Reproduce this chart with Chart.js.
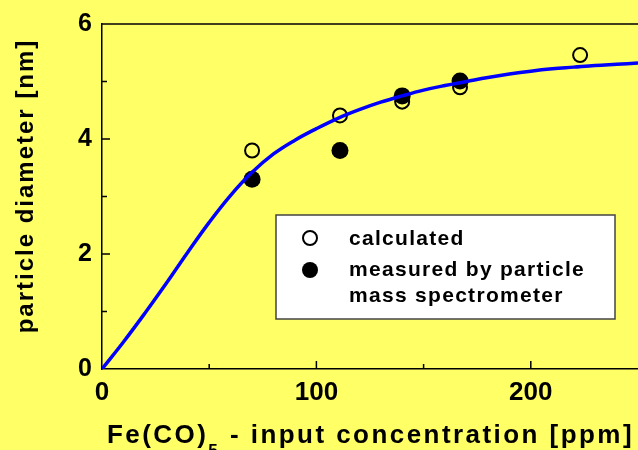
<!DOCTYPE html>
<html>
<head>
<meta charset="utf-8">
<script src="https://cdn.jsdelivr.net/npm/chart.js@4.4.1/dist/chart.umd.min.js"></script>
<style>
  html, body { margin: 0; padding: 0; background: #ffff66; }
  #wrap { width: 638px; height: 450px; position: relative; }
</style>
</head>
<body>
<div id="wrap"><canvas id="chart"></canvas></div>
<script>
// fitted curve
const fitConc = [0, 10, 20, 30, 40, 50, 60, 70, 80, 90, 100, 110, 120, 130, 140, 150, 160, 170, 180, 190, 200, 210, 220, 230, 240, 250];
const fitDiameter = [0, 0.47, 0.97, 1.49, 2.03, 2.55, 3.02, 3.42, 3.74, 3.98, 4.18, 4.36, 4.51, 4.64, 4.75, 4.85, 4.93, 5.0, 5.07, 5.13, 5.18, 5.22, 5.25, 5.28, 5.3, 5.32];

// open circles
const calcConc = [70, 111, 140, 167, 223];
const calcDiameter = [3.80, 4.41, 4.65, 4.90, 5.46];

// filled circles
const measConc = [70, 111, 140, 167];
const measDiameter = [3.30, 3.80, 4.75, 5.01];

const xMinorTicks = [50, 150];
const xMajorTicks = [100, 200];
const yMinorTicks = [1, 3, 5];
const yMajorTicks = [2, 4];

const legendLabels = ['calculated', 'measured by particle', 'mass spectrometer'];

const FONT = '"Liberation Sans", Arial, sans-serif';

const toPoints = (xs, ys) => xs.map((x, i) => ({ x: x, y: ys[i] }));

// inward ticks, top frame line, axis titles and the boxed legend
const decorations = {
  id: 'decorations',
  afterDraw(chart) {
    const ctx = chart.ctx;
    const area = chart.chartArea;
    const xs = chart.scales.x;
    const ys = chart.scales.y;
    ctx.save();
    ctx.strokeStyle = '#000';
    ctx.lineWidth = 1.5;
    ctx.beginPath();
    ctx.moveTo(area.left, area.top);
    ctx.lineTo(area.right, area.top);
    xMajorTicks.forEach(v => { const p = xs.getPixelForValue(v); ctx.moveTo(p, area.bottom); ctx.lineTo(p, area.bottom - 8); });
    xMinorTicks.forEach(v => { const p = xs.getPixelForValue(v); ctx.moveTo(p, area.bottom); ctx.lineTo(p, area.bottom - 5); });
    yMajorTicks.forEach(v => { const p = ys.getPixelForValue(v); ctx.moveTo(area.left, p); ctx.lineTo(area.left + 8, p); });
    yMinorTicks.forEach(v => { const p = ys.getPixelForValue(v); ctx.moveTo(area.left, p); ctx.lineTo(area.left + 5, p); });
    ctx.stroke();

    // x title with subscript
    ctx.fillStyle = '#000';
    ctx.textBaseline = 'alphabetic';
    ctx.textAlign = 'left';
    ctx.letterSpacing = '2.45px';
    ctx.font = 'bold 26px ' + FONT;
    let x = 107;
    ctx.fillText('Fe(CO)', x, 443);
    x += ctx.measureText('Fe(CO)').width;
    ctx.font = 'bold 17px ' + FONT;
    ctx.fillText('5', x, 456);
    x += ctx.measureText('5').width;
    ctx.font = 'bold 26px ' + FONT;
    ctx.fillText(' - input concentration [ppm]', x, 443);

    // y title
    ctx.save();
    ctx.translate(33, 186);
    ctx.rotate(-Math.PI / 2);
    ctx.textAlign = 'center';
    ctx.letterSpacing = '2px';
    ctx.font = 'bold 24px ' + FONT;
    ctx.fillText('particle diameter [nm]', 0, 0);
    ctx.restore();

    // legend box
    ctx.fillStyle = '#fff';
    ctx.fillRect(276, 215, 339, 104);
    ctx.strokeStyle = '#444';
    ctx.lineWidth = 1.5;
    ctx.strokeRect(276, 215, 339, 104);
    ctx.lineWidth = 2;
    ctx.strokeStyle = '#000';
    ctx.beginPath();
    ctx.arc(310, 238, 7, 0, Math.PI * 2);
    ctx.stroke();
    ctx.fillStyle = '#000';
    ctx.beginPath();
    ctx.arc(310, 270, 8, 0, Math.PI * 2);
    ctx.fill();
    ctx.letterSpacing = '1.3px';
    ctx.font = 'bold 21px ' + FONT;
    ctx.fillText(legendLabels[0], 349, 245);
    ctx.fillText(legendLabels[1], 349, 276);
    ctx.fillText(legendLabels[2], 349, 302);
    ctx.restore();
  }
};

new Chart(document.getElementById('chart'), {
  type: 'scatter',
  data: {
    datasets: [
      {
        label: 'fit',
        data: toPoints(fitConc, fitDiameter),
        showLine: true,
        borderColor: '#0000ff',
        borderWidth: 3.5,
        pointRadius: 0,
        tension: 0.4,
        order: 0
      },
      {
        label: 'measured by particle mass spectrometer',
        data: toPoints(measConc, measDiameter),
        backgroundColor: '#000',
        borderColor: '#000',
        borderWidth: 0,
        pointRadius: 8.5,
        order: 1
      },
      {
        label: 'calculated',
        data: toPoints(calcConc, calcDiameter),
        backgroundColor: 'rgba(0,0,0,0)',
        borderColor: '#000',
        borderWidth: 2,
        pointRadius: 7,
        order: 2
      }
    ]
  },
  options: {
    responsive: true,
    maintainAspectRatio: false,
    animation: false,
    layout: { autoPadding: false, padding: { top: 24, left: 0, right: 0, bottom: 0 } },
    plugins: { legend: { display: false }, tooltip: { enabled: false } },
    scales: {
      x: {
        type: 'linear',
        min: 0,
        max: 250,
        afterFit: s => { s.height = 81; s.paddingLeft = 0; s.paddingRight = 0; },
        grid: { display: false, drawTicks: false },
        border: { display: true, color: '#000', width: 1.5 },
        ticks: {
          stepSize: 100,
          padding: 8,
          color: '#000',
          font: { family: FONT, size: 26, weight: 'bold' },
          callback: v => (v % 100 === 0 && v < 250 ? v : '')
        }
      },
      y: {
        type: 'linear',
        min: 0,
        max: 6,
        afterFit: s => { s.width = 102; s.paddingTop = 0; s.paddingBottom = 0; },
        grid: { display: false, drawTicks: false },
        border: { display: true, color: '#000', width: 1.5 },
        ticks: {
          stepSize: 2,
          padding: 10,
          color: '#000',
          font: { family: FONT, size: 25, weight: 'bold' }
        }
      }
    }
  },
  plugins: [decorations]
});
</script>
</body>
</html>
